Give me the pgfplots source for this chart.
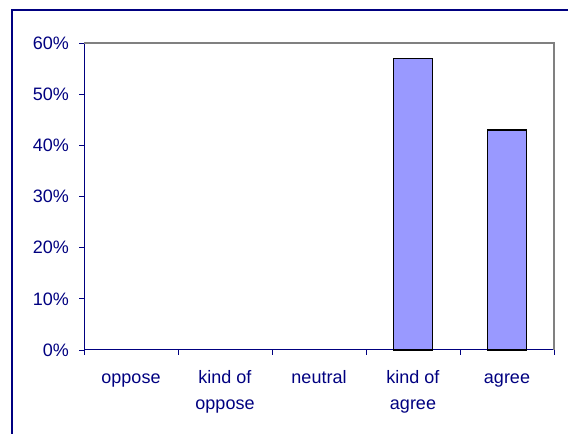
\documentclass[border=0pt]{standalone}
\usepackage{pgfplots}
\pgfplotsset{compat=1.18}
\usepackage{fontspec}
\setmainfont{Liberation Sans}
\definecolor{navytext}{RGB}{0,0,128}
\definecolor{barfill}{RGB}{153,153,255}
\definecolor{framegray}{RGB}{128,128,128}

\begin{document}
\fontsize{18bp}{26bp}\selectfont
\begin{tikzpicture}[x=1bp,y=1bp]
  % page extent and the outer chart frame (top and left edges)
  \path[use as bounding box] (0,0) rectangle (568,434);
  \draw[navytext, line width=2bp] (12,0) -- (12,424) -- (568,424);

  \begin{axis}[
    at={(84bp,84bp)}, anchor=south west,
    scale only axis, width=470bp, height=307bp,
    xmin=-0.5, xmax=4.5, ymin=0, ymax=60,
    axis x line=bottom, axis y line=left,
    axis line style={navytext, line width=1bp, -},
    tick style={navytext, line width=0.8bp},
    tick align=outside,
    major tick length=5bp,
    ytick={0,10,...,60},
    yticklabel={\pgfmathprintnumber{\tick}\%},
    /pgf/number format/assume math mode=true,
    yticklabel style={font=\fontsize{18bp}{26bp}\selectfont, text=navytext, inner sep=0pt, xshift=-10bp},
    xtick={-0.5,0.5,...,4.5},
    xticklabels={},
    extra x ticks={0,1,2,3,4},
    % \vphantom keeps every first line on a common baseline
    extra x tick labels={\vphantom{k}oppose,kind of\\oppose,neutral,kind of\\agree,\vphantom{k}agree},
    extra x tick style={major tick length=0pt,
      xticklabel style={font=\fontsize{18bp}{26bp}\selectfont, text=navytext, align=center, anchor=north, inner sep=0pt, yshift=-20bp}},
    ybar, bar width=38.5bp,
    clip=false,
  ]
    \draw[framegray, line width=1.2bp] (rel axis cs:0,1) -- (rel axis cs:1,1) -- (rel axis cs:1,0);
    % zero-valued categories draw no bar
    \addplot[fill=barfill, draw=black, line width=1.2bp,
      unbounded coords=discard, y filter/.expression={y==0 ? nan : y}] coordinates {
      (0,0) (1,0) (2,0) (3,57) (4,43)
    };
  \end{axis}
\end{tikzpicture}
\end{document}
